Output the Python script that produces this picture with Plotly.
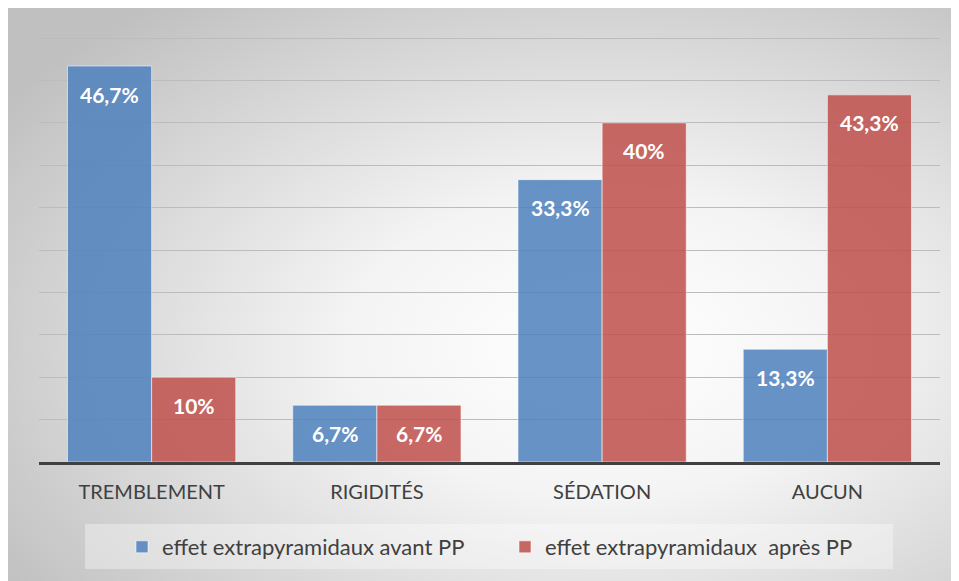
import base64
import plotly.graph_objects as go

categories = ["TREMBLEMENT", "RIGIDITÉS", "SÉDATION", "AUCUN"]
avant = [46.7, 6.7, 33.3, 13.3]
apres = [10, 6.7, 40, 43.3]
avant_labels = ["46,7%", "6,7%", "33,3%", "13,3%"]
apres_labels = ["10%", "6,7%", "40%", "43,3%"]
series_names = ["effet extrapyramidaux avant PP", "effet extrapyramidaux  après PP"]

W, H = 959, 581
OFF = 8  # page body margin
ML, MT = 39 - OFF, 36 - OFF
PR, PB = 940 - OFF, 462 - OFF
MR, MB = W - PR, H - PB
PW, PH = PR - ML, PB - MT
BARGAP = 0.253
YTOP = 50.24

def px_x(p):
    return (p - OFF - ML) / PW

def px_y(p):
    return (PB - (p - OFF)) / PH

svg = f'''<svg xmlns="http://www.w3.org/2000/svg" width="{W}" height="{H}" viewBox="0 0 {W} {H}" preserveAspectRatio="none">
<defs><radialGradient id="g" cx="0.62" cy="0.58" r="0.75" gradientUnits="objectBoundingBox">
<stop offset="0" stop-color="#ffffff"/><stop offset="0.35" stop-color="#f4f4f4"/><stop offset="1" stop-color="#c0c0c0"/></radialGradient></defs>
<rect x="0" y="0" width="{W}" height="{H}" fill="url(#g)"/></svg>'''
src = "data:image/svg+xml;base64," + base64.b64encode(svg.encode()).decode()

FONT = "Lato"
fig = go.Figure()
fig.add_bar(x=categories, y=avant, name=series_names[0],
            marker=dict(color="rgba(79,129,189,0.86)", line=dict(color="rgba(255,255,255,0.55)", width=1)))
fig.add_bar(x=categories, y=apres, name=series_names[1],
            marker=dict(color="rgba(192,80,77,0.86)", line=dict(color="rgba(255,255,255,0.55)", width=1)))

annotations = []
off = (1 - BARGAP) / 4
for i in range(len(categories)):
    for val, lab, sgn in ((avant[i], avant_labels[i], -1), (apres[i], apres_labels[i], 1)):
        annotations.append(dict(x=i + sgn * off, y=val, xref="x", yref="y", text=f"<b>{lab}</b>",
                                showarrow=False, yanchor="middle", yshift=-28,
                                font=dict(family=FONT, size=21, color="white")))

fig.update_layout(
    width=W, height=H,
    margin=dict(l=ML, r=MR, t=MT, b=MB),
    paper_bgcolor="#e0e0e0", plot_bgcolor="rgba(0,0,0,0)",
    barmode="group", bargap=BARGAP, bargroupgap=0,
    font=dict(family=FONT, color="#404040", size=20),
    images=[dict(source=src, xref="paper", yref="paper", x=px_x(OFF), y=px_y(OFF),
                 sizex=px_x(OFF + W) - px_x(OFF), sizey=px_y(OFF) - px_y(OFF + H), sizing="stretch",
                 layer="below", xanchor="left", yanchor="top")],
    shapes=[
        dict(type="rect", xref="paper", yref="paper", x0=px_x(85), x1=px_x(893), y0=px_y(569), y1=px_y(524),
             line=dict(width=0), fillcolor="rgba(255,255,255,0.35)", layer="below"),
    ],
    annotations=annotations,
    legend=dict(orientation="h", x=px_x(122), y=px_y(547), xanchor="left", yanchor="middle",
                bgcolor="rgba(0,0,0,0)", font=dict(family=FONT, size=22, color="#404040"),
                entrywidth=338, entrywidthmode="pixels", traceorder="normal"),
    showlegend=True,
)
fig.update_xaxes(showline=True, linecolor="#404040", linewidth=3, ticks="", ticklabelstandoff=10,
                 tickfont=dict(family=FONT, size=20, color="#404040"), showgrid=False)
fig.update_yaxes(range=[0, YTOP], tick0=0, dtick=5, showgrid=True, gridcolor="#bcbcbc", gridwidth=1,
                 showticklabels=False, zeroline=False, ticks="")
fig.write_html("out.html")
